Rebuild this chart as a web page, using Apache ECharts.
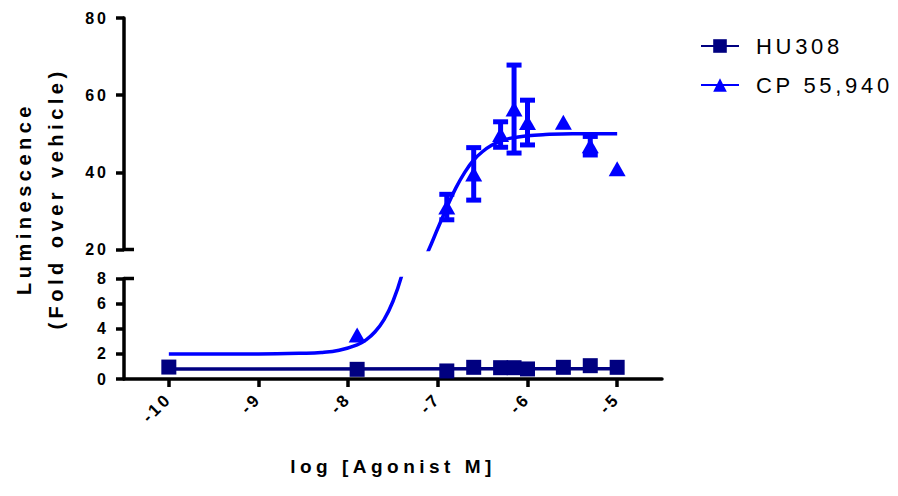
<!DOCTYPE html>
<html>
<head>
<meta charset="utf-8">
<script src="https://cdn.jsdelivr.net/npm/echarts@6/dist/echarts.min.js"></script>
<style>
  html, body { margin: 0; padding: 0; background: #fff; }
  #chart { width: 898px; height: 496px; }
</style>
</head>
<body>
<div id="chart"></div>
<script>
// ---- data ----
const xTickLabels = [-10, -9, -8, -7, -6, -5];
const yUpperTicks = [20, 40, 60, 80];
const yLowerTicks = [0, 2, 4, 6, 8];

const huX = [-10, -7.9, -6.9, -6.6, -6.3, -6.15, -6.0, -5.6, -5.3, -5.0];
const huY = [0.95, 0.77, 0.64, 0.93, 0.9, 0.9, 0.8, 0.93, 1.06, 0.93];
const huFitX = [-10, -5];
const huFitY = [0.8, 0.82];

const cpX = [-7.9, -6.9, -6.6, -6.3, -6.15, -6.0, -5.6, -5.3, -5.0];
const cpY = [3.5, 31.0, 39.6, 49.8, 56.4, 52.9, 53.0, 46.9, 40.9];
const cpErr = [0, 3.3, 6.8, 3.3, 11.4, 5.8, 0, 2.4, 0];

const cpFitX = [-10, -9, -8.5, -8.3, -8.1, -7.9, -7.8, -7.7, -7.6, -7.5, -7.4, -7.3, -7.2, -7.1, -7.0, -6.9, -6.8, -6.7, -6.6, -6.5, -6.4, -6.3, -6.2, -6.0, -5.8, -5.5, -5.0];
const cpFitY = [2.0, 2.0, 2.05, 2.11, 2.29, 2.72, 3.12, 3.76, 4.73, 6.19, 8.3, 11.3, 15.2, 20.0, 25.5, 30.9, 35.9, 40.0, 43.2, 45.4, 47.0, 48.1, 48.8, 49.5, 49.8, 50.0, 50.0];

const xMin = -10.5, xMax = -4.5;

// ---- build ----
const zip = (a, b) => a.map((v, i) => [v, b[i]]);
const huPts = zip(huX, huY);
const huFit = zip(huFitX, huFitY);
const cpPts = zip(cpX, cpY);
const cpFit = zip(cpFitX, cpFitY);
const cpBars = cpX.map((x, i) => [x, cpY[i] - cpErr[i], cpY[i] + cpErr[i]]).filter((d, i) => cpErr[i] > 0);

const NAVY = '#000080', BLUE = '#0000ff';
const FONT = '"Liberation Sans", Arial, sans-serif';
const AXW = 3.5;

const axisCommon = {
  axisLine: { show: true, lineStyle: { color: '#000', width: AXW } },
  axisTick: { show: true, length: 8, lineStyle: { color: '#000', width: AXW } },
  splitLine: { show: false }
};
const labelStyle = { color: '#000', fontSize: 16, fontWeight: 'bold', fontFamily: FONT };

function breakMark(gridIdx, yVal) {
  return {
    type: 'custom', xAxisIndex: gridIdx, yAxisIndex: gridIdx, silent: true, clip: false, z: 5,
    data: [[xMin, yVal]],
    renderItem: (params, api) => {
      const p = api.coord([api.value(0), api.value(1)]);
      return { type: 'line', shape: { x1: p[0], y1: p[1], x2: p[0] + 10, y2: p[1] },
               style: { stroke: '#000', lineWidth: AXW } };
    }
  };
}

const option = {
  animation: false,
  backgroundColor: '#fff',
  textStyle: { fontFamily: FONT },
  grid: [
    { left: 124, right: 236, top: 18, height: 231.5 },
    { left: 124, right: 236, top: 278.5, height: 100.5 },
    { left: 124, right: 236, top: 18, height: 361 }
  ],
  legend: {
    data: ['HU308', 'CP 55,940'],
    orient: 'vertical',
    left: 695, top: 30,
    itemWidth: 38, itemHeight: 17, itemGap: 17,
    textStyle: { color: '#000', fontSize: 22, fontFamily: FONT, padding: [0, 0, 0, 12] }
  },
  xAxis: [
    { gridIndex: 0, type: 'value', min: xMin, max: xMax, show: false },
    Object.assign({}, axisCommon, {
      gridIndex: 1, type: 'value', min: xMin, max: xMax,
      axisTick: { show: true, length: 8, lineStyle: { color: '#000', width: AXW }, customValues: xTickLabels },
      axisLabel: Object.assign({}, labelStyle, { fontSize: 17, rotate: 45, margin: 17, customValues: xTickLabels }),
      name: 'log [Agonist M]', nameLocation: 'middle', nameGap: 78,
      nameTextStyle: { color: '#000', fontSize: 19, fontWeight: 'bold', fontFamily: FONT }
    }),
    { gridIndex: 2, type: 'value', min: xMin, max: xMax, show: false }
  ],
  yAxis: [
    Object.assign({}, axisCommon, {
      gridIndex: 0, type: 'value', min: 20, max: 80, interval: 20,
      axisLabel: Object.assign({}, labelStyle, { margin: 15 })
    }),
    Object.assign({}, axisCommon, {
      gridIndex: 1, type: 'value', min: 0, max: 8, interval: 2,
      axisLabel: Object.assign({}, labelStyle, { margin: 15 })
    }),
    {
      gridIndex: 2, type: 'value', min: 0, max: 1,
      axisLine: { show: false }, axisTick: { show: false }, axisLabel: { show: false }, splitLine: { show: false },
      name: 'Luminescence\n(Fold over vehicle)', nameLocation: 'middle', nameGap: 64, nameRotate: 90,
      nameTextStyle: { color: '#000', fontSize: 20, fontWeight: 'bold', fontFamily: FONT, lineHeight: 32 }
    }
  ],
  series: [
    // fitted curves (also give legend icons)
    { name: 'HU308', type: 'line', xAxisIndex: 1, yAxisIndex: 1, data: huFit, symbol: 'rect', showSymbol: false,
      lineStyle: { color: NAVY, width: 3.5 }, itemStyle: { color: NAVY }, z: 2 },
    { name: 'CP 55,940', type: 'line', xAxisIndex: 1, yAxisIndex: 1, data: cpFit, symbol: 'triangle', showSymbol: false,
      smooth: 0.4, clip: true,
      lineStyle: { color: BLUE, width: 3.5 }, itemStyle: { color: BLUE }, z: 2 },
    { name: 'CP 55,940', type: 'line', xAxisIndex: 0, yAxisIndex: 0, data: cpFit, symbol: 'triangle', showSymbol: false,
      smooth: 0.4, clip: true,
      lineStyle: { color: BLUE, width: 3.5 }, itemStyle: { color: BLUE }, z: 2 },
    // error bars
    { name: 'CP 55,940', type: 'custom', xAxisIndex: 0, yAxisIndex: 0, data: cpBars, z: 3, silent: true,
      renderItem: (params, api) => {
        const x = api.value(0);
        const top = api.coord([x, api.value(2)]);
        const bot = api.coord([x, api.value(1)]);
        const hw = 7.5;
        const st = { stroke: BLUE, lineWidth: 5 };
        return { type: 'group', children: [
          { type: 'line', shape: { x1: top[0], y1: top[1], x2: bot[0], y2: bot[1] }, style: st },
          { type: 'line', shape: { x1: top[0] - hw, y1: top[1], x2: top[0] + hw, y2: top[1] }, style: st },
          { type: 'line', shape: { x1: bot[0] - hw, y1: bot[1], x2: bot[0] + hw, y2: bot[1] }, style: st }
        ] };
      }
    },
    // data points
    { name: 'HU308', type: 'scatter', xAxisIndex: 1, yAxisIndex: 1, data: huPts, symbol: 'rect', symbolSize: 15,
      itemStyle: { color: NAVY, opacity: 1 }, z: 4, clip: true },
    { name: 'CP 55,940', type: 'scatter', xAxisIndex: 1, yAxisIndex: 1, data: cpPts, symbol: 'triangle', symbolSize: [17, 15],
      itemStyle: { color: BLUE, opacity: 1 }, z: 4, clip: true },
    { name: 'CP 55,940', type: 'scatter', xAxisIndex: 0, yAxisIndex: 0, data: cpPts, symbol: 'triangle', symbolSize: [17, 15],
      itemStyle: { color: BLUE, opacity: 1 }, z: 4, clip: true },
    breakMark(0, 20),
    breakMark(1, 8)
  ]
};

const chart = echarts.init(document.getElementById('chart'), null, { renderer: 'svg' });
chart.setOption(option);

function applySpacing() {
  document.querySelectorAll('#chart svg text').forEach(t => {
    const s = t.textContent;
    let ls = 3;
    if (s === 'HU308' || s === 'CP 55,940') ls = 3.7;
    else if (/Luminescence|Fold|Agonist/.test(s)) ls = 4.5;
    t.setAttribute('letter-spacing', ls + 'px');
  });
}
applySpacing();
chart.on('finished', applySpacing);
setTimeout(applySpacing, 50);
</script>
</body>
</html>
